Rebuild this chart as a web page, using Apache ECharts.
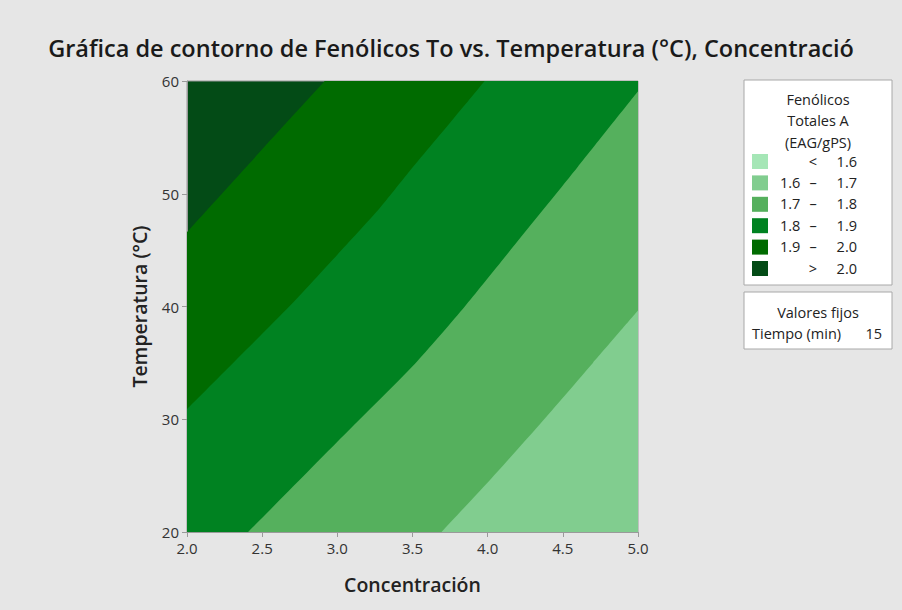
<!DOCTYPE html>
<html>
<head>
<meta charset="utf-8">
<script src="https://cdn.jsdelivr.net/npm/echarts@6/dist/echarts.min.js"></script>
<style>
  html, body { margin: 0; padding: 0; background: #e6e6e6; }
  #chart { width: 902px; height: 610px; }
</style>
</head>
<body>
<div id="chart"></div>
<script>
// Contour boundaries (Concentración, Temperatura) for each level of Fenólicos Totales A.
// Each curve separates the level above-left (higher) from the one below-right (lower).
const limite20 = [[2.0, 46.6], [2.3, 51.0], [2.6, 55.4], [2.916, 60.0], [3.5, 68.5], [5.0, 90.0]];
const limite19 = [[2.0, 30.9], [2.3, 34.9], [2.68, 40.0], [3.0, 44.6], [3.28, 48.7], [3.48, 52.0], [3.75, 56.3], [3.98, 60.0], [4.5, 68.5], [5.0, 77.0]];
const limite18 = [[2.0, 14.8], [2.406, 20.0], [3.0, 28.0], [3.515, 34.9], [3.848, 40.0], [4.2, 45.8], [4.6, 52.4], [5.0, 59.1]];
const limite17 = [[3.2, 12.9], [3.693, 20.0], [4.0, 24.4], [4.35, 29.6], [4.7, 35.0], [5.0, 39.65]];

// Legend classes, lowest to highest
const claseDesde = ['', '1.6', '1.7', '1.8', '1.9', ''];
const claseSep = ['<', '–', '–', '–', '–', '>'];
const claseHasta = ['1.6', '1.7', '1.8', '1.9', '2.0', '2.0'];
const colores = ['#a5e6b6', '#81cd8f', '#55b05d', '#008221', '#006b00', '#034b16'];

// Axis ticks
const ticksX = [2.0, 2.5, 3.0, 3.5, 4.0, 4.5, 5.0];
const ticksY = [20, 30, 40, 50, 60];

const fuente = '"Open Sans", "Noto Sans", sans-serif';
const gris = '#9a9a9a';
const tinta = '#222';

const chart = echarts.init(document.getElementById('chart'), null, { renderer: 'svg' });

// Curves are drawn from highest to lowest level; each fills down to the axis minimum.
const capas = [
  { datos: limite20, color: colores[4] },
  { datos: limite19, color: colores[3] },
  { datos: limite18, color: colores[2] },
  { datos: limite17, color: colores[1] }
];

const series = capas.map(c => ({
  type: 'line',
  data: c.datos,
  symbol: 'none',
  smooth: 0.2,
  clip: true,
  silent: true,
  lineStyle: { width: 0, opacity: 0 },
  areaStyle: { color: c.color, opacity: 1, origin: 'start' }
}));

// Legend panel
const lx = 744, ly = 80, lw = 148;
const fLeyenda = '14.5px ' + fuente;
const legendItems = [];
legendItems.push({ type: 'rect', shape: { x: lx, y: ly, width: lw, height: 205 },
  style: { fill: '#ffffff', stroke: '#a8a8a8', lineWidth: 1 } });
['Fenólicos', 'Totales A', '(EAG/gPS)'].forEach((t, i) => {
  legendItems.push({ type: 'text', x: 818, y: 99 + i * 21.7,
    style: { text: t, font: fLeyenda, fill: tinta, align: 'center', verticalAlign: 'middle' } });
});
for (let i = 0; i < colores.length; i++) {
  const yc = 161 + i * 21.4;
  legendItems.push({ type: 'rect', shape: { x: 752, y: yc - 7, width: 16, height: 15 },
    style: { fill: colores[i] } });
  if (claseDesde[i]) {
    legendItems.push({ type: 'text', x: 780, y: yc,
      style: { text: claseDesde[i], font: fLeyenda, fill: tinta, align: 'left', verticalAlign: 'middle' } });
  }
  legendItems.push({ type: 'text', x: 813, y: yc,
    style: { text: claseSep[i], font: fLeyenda, fill: tinta, align: 'center', verticalAlign: 'middle' } });
  legendItems.push({ type: 'text', x: 857, y: yc,
    style: { text: claseHasta[i], font: fLeyenda, fill: tinta, align: 'right', verticalAlign: 'middle' } });
}
legendItems.push({ type: 'rect', shape: { x: lx, y: 292, width: lw, height: 57 },
  style: { fill: '#ffffff', stroke: '#a8a8a8', lineWidth: 1 } });
legendItems.push({ type: 'text', x: 818, y: 312,
  style: { text: 'Valores fijos', font: fLeyenda, fill: tinta, align: 'center', verticalAlign: 'middle' } });
legendItems.push({ type: 'text', x: 752, y: 333,
  style: { text: 'Tiempo (min)', font: fLeyenda, fill: tinta, align: 'left', verticalAlign: 'middle' } });
legendItems.push({ type: 'text', x: 882, y: 333,
  style: { text: '15', font: fLeyenda, fill: tinta, align: 'right', verticalAlign: 'middle' } });

chart.setOption({
  backgroundColor: '#e6e6e6',
  animation: false,
  title: {
    text: 'Gráfica de contorno de Fenólicos To vs. Temperatura (°C), Concentració',
    left: 'center',
    top: 31,
    textStyle: { fontFamily: fuente, fontSize: 23.5, fontWeight: 600, color: '#1a1a1a' }
  },
  grid: {
    left: 187, right: 264, top: 81, bottom: 78,
    show: true,
    backgroundColor: colores[5],
    borderColor: gris,
    borderWidth: 1
  },
  xAxis: {
    type: 'value',
    min: ticksX[0], max: ticksX[ticksX.length - 1], interval: 0.5,
    name: 'Concentración',
    nameLocation: 'middle',
    nameGap: 42,
    nameTextStyle: { fontFamily: fuente, fontSize: 19.5, fontWeight: 600, color: tinta },
    axisLine: { show: true, lineStyle: { color: gris } },
    axisTick: { show: true, length: 5, lineStyle: { color: gris } },
    axisLabel: { fontFamily: fuente, fontSize: 15, color: '#333', margin: 8,
      formatter: v => v.toFixed(1) },
    splitLine: { show: false }
  },
  yAxis: {
    type: 'value',
    min: ticksY[0], max: ticksY[ticksY.length - 1], interval: 10,
    name: 'Temperatura (°C)',
    nameLocation: 'middle',
    nameGap: 38,
    nameTextStyle: { fontFamily: fuente, fontSize: 19.5, fontWeight: 600, color: tinta },
    axisLine: { show: true, lineStyle: { color: gris } },
    axisTick: { show: true, length: 5, lineStyle: { color: gris } },
    axisLabel: { fontFamily: fuente, fontSize: 15, color: '#333', margin: 8 },
    splitLine: { show: false }
  },
  series: series,
  graphic: legendItems
});
</script>
</body>
</html>
